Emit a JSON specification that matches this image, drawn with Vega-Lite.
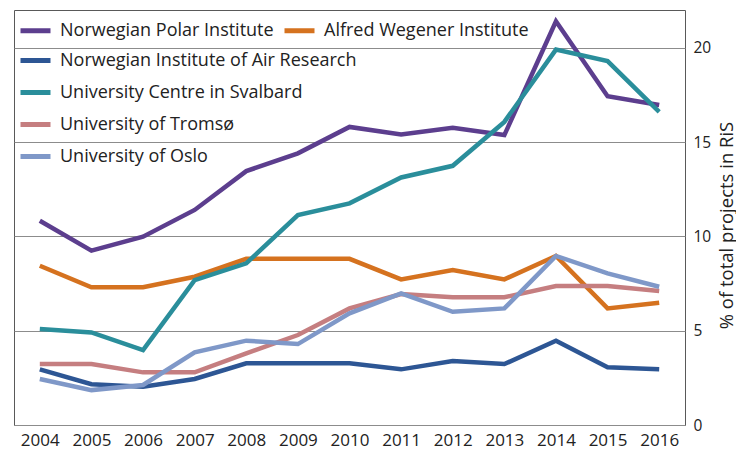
{
  "$schema": "https://vega.github.io/schema/vega-lite/v6.json",
  "width": 671,
  "height": 415,
  "autosize": "none",
  "padding": {"left": 14, "top": 10, "right": 51, "bottom": 25},
  "background": "white",
  "config": {
    "view": {"stroke": "#595959", "strokeWidth": 1},
    "font": "Open Sans"
  },
  "data": {
    "values": [
      {"year": "2004", "inst": "Norwegian Polar Institute", "value": 10.83},
      {"year": "2005", "inst": "Norwegian Polar Institute", "value": 9.24},
      {"year": "2006", "inst": "Norwegian Polar Institute", "value": 9.98},
      {"year": "2007", "inst": "Norwegian Polar Institute", "value": 11.4},
      {"year": "2008", "inst": "Norwegian Polar Institute", "value": 13.46},
      {"year": "2009", "inst": "Norwegian Polar Institute", "value": 14.4},
      {"year": "2010", "inst": "Norwegian Polar Institute", "value": 15.8},
      {"year": "2011", "inst": "Norwegian Polar Institute", "value": 15.4},
      {"year": "2012", "inst": "Norwegian Polar Institute", "value": 15.76},
      {"year": "2013", "inst": "Norwegian Polar Institute", "value": 15.37},
      {"year": "2014", "inst": "Norwegian Polar Institute", "value": 21.4},
      {"year": "2015", "inst": "Norwegian Polar Institute", "value": 17.43},
      {"year": "2016", "inst": "Norwegian Polar Institute", "value": 16.96},
      {"year": "2004", "inst": "Alfred Wegener Institute", "value": 8.44},
      {"year": "2005", "inst": "Alfred Wegener Institute", "value": 7.3},
      {"year": "2006", "inst": "Alfred Wegener Institute", "value": 7.3},
      {"year": "2007", "inst": "Alfred Wegener Institute", "value": 7.86},
      {"year": "2008", "inst": "Alfred Wegener Institute", "value": 8.81},
      {"year": "2009", "inst": "Alfred Wegener Institute", "value": 8.81},
      {"year": "2010", "inst": "Alfred Wegener Institute", "value": 8.81},
      {"year": "2011", "inst": "Alfred Wegener Institute", "value": 7.72},
      {"year": "2012", "inst": "Alfred Wegener Institute", "value": 8.21},
      {"year": "2013", "inst": "Alfred Wegener Institute", "value": 7.72},
      {"year": "2014", "inst": "Alfred Wegener Institute", "value": 8.96},
      {"year": "2015", "inst": "Alfred Wegener Institute", "value": 6.18},
      {"year": "2016", "inst": "Alfred Wegener Institute", "value": 6.48},
      {"year": "2004", "inst": "Norwegian Institute of Air Research", "value": 2.95},
      {"year": "2005", "inst": "Norwegian Institute of Air Research", "value": 2.16},
      {"year": "2006", "inst": "Norwegian Institute of Air Research", "value": 2.03},
      {"year": "2007", "inst": "Norwegian Institute of Air Research", "value": 2.44},
      {"year": "2008", "inst": "Norwegian Institute of Air Research", "value": 3.27},
      {"year": "2009", "inst": "Norwegian Institute of Air Research", "value": 3.27},
      {"year": "2010", "inst": "Norwegian Institute of Air Research", "value": 3.27},
      {"year": "2011", "inst": "Norwegian Institute of Air Research", "value": 2.95},
      {"year": "2012", "inst": "Norwegian Institute of Air Research", "value": 3.39},
      {"year": "2013", "inst": "Norwegian Institute of Air Research", "value": 3.23},
      {"year": "2014", "inst": "Norwegian Institute of Air Research", "value": 4.47},
      {"year": "2015", "inst": "Norwegian Institute of Air Research", "value": 3.06},
      {"year": "2016", "inst": "Norwegian Institute of Air Research", "value": 2.95},
      {"year": "2004", "inst": "University Centre in Svalbard", "value": 5.09},
      {"year": "2005", "inst": "University Centre in Svalbard", "value": 4.91},
      {"year": "2006", "inst": "University Centre in Svalbard", "value": 3.97},
      {"year": "2007", "inst": "University Centre in Svalbard", "value": 7.68},
      {"year": "2008", "inst": "University Centre in Svalbard", "value": 8.57},
      {"year": "2009", "inst": "University Centre in Svalbard", "value": 11.13},
      {"year": "2010", "inst": "University Centre in Svalbard", "value": 11.75},
      {"year": "2011", "inst": "University Centre in Svalbard", "value": 13.12},
      {"year": "2012", "inst": "University Centre in Svalbard", "value": 13.74},
      {"year": "2013", "inst": "University Centre in Svalbard", "value": 16.07},
      {"year": "2014", "inst": "University Centre in Svalbard", "value": 19.9},
      {"year": "2015", "inst": "University Centre in Svalbard", "value": 19.29},
      {"year": "2016", "inst": "University Centre in Svalbard", "value": 16.6},
      {"year": "2004", "inst": "University of Tromsø", "value": 3.23},
      {"year": "2005", "inst": "University of Tromsø", "value": 3.23},
      {"year": "2006", "inst": "University of Tromsø", "value": 2.79},
      {"year": "2007", "inst": "University of Tromsø", "value": 2.79},
      {"year": "2008", "inst": "University of Tromsø", "value": 3.8},
      {"year": "2009", "inst": "University of Tromsø", "value": 4.77},
      {"year": "2010", "inst": "University of Tromsø", "value": 6.18},
      {"year": "2011", "inst": "University of Tromsø", "value": 6.94},
      {"year": "2012", "inst": "University of Tromsø", "value": 6.77},
      {"year": "2013", "inst": "University of Tromsø", "value": 6.77},
      {"year": "2014", "inst": "University of Tromsø", "value": 7.37},
      {"year": "2015", "inst": "University of Tromsø", "value": 7.37},
      {"year": "2016", "inst": "University of Tromsø", "value": 7.1},
      {"year": "2004", "inst": "University of Oslo", "value": 2.44},
      {"year": "2005", "inst": "University of Oslo", "value": 1.85},
      {"year": "2006", "inst": "University of Oslo", "value": 2.12},
      {"year": "2007", "inst": "University of Oslo", "value": 3.85},
      {"year": "2008", "inst": "University of Oslo", "value": 4.47},
      {"year": "2009", "inst": "University of Oslo", "value": 4.29},
      {"year": "2010", "inst": "University of Oslo", "value": 5.92},
      {"year": "2011", "inst": "University of Oslo", "value": 6.98},
      {"year": "2012", "inst": "University of Oslo", "value": 6.0},
      {"year": "2013", "inst": "University of Oslo", "value": 6.18},
      {"year": "2014", "inst": "University of Oslo", "value": 8.96},
      {"year": "2015", "inst": "University of Oslo", "value": 8.04},
      {"year": "2016", "inst": "University of Oslo", "value": 7.33}
    ]
  },
  "encoding": {
    "x": {
      "field": "year", "type": "ordinal",
      "scale": {"type": "point", "padding": 0.5},
      "axis": {"title": null, "labelAngle": 0, "ticks": false, "domain": false, "grid": false, "labelFontSize": 17, "labelColor": "#222", "labelPadding": 7}
    },
    "y": {
      "field": "value", "type": "quantitative",
      "scale": {"domain": [0, 22], "nice": false},
      "axis": {"orient": "right", "values": [0, 5, 10, 15, 20], "title": "% of total projects in RiS", "titleFontSize": 18.5, "titleFontWeight": "normal", "titleColor": "#222", "titleAngle": 270, "titleX": 41, "titleY": 215, "titleAlign": "center", "titleBaseline": "middle", "labelFontSize": 15.5, "labelColor": "#222", "labelPadding": 8, "ticks": false, "domain": false, "grid": true, "gridColor": "#8c8c8c", "gridWidth": 1}
    }
  },
  "layer": [
    {
      "transform": [{"filter": {"field": "inst", "oneOf": ["Norwegian Polar Institute", "Alfred Wegener Institute"]}}],
      "mark": {"type": "line", "strokeWidth": 4.5},
      "encoding": {
        "color": {
          "field": "inst", "type": "nominal",
          "scale": {"domain": ["Norwegian Polar Institute", "Alfred Wegener Institute"], "range": ["#5c3e8e", "#d5721f"]},
          "legend": {"title": null, "orient": "none", "legendX": 4, "legendY": 3, "direction": "horizontal", "symbolType": "stroke", "symbolSize": 900, "symbolStrokeWidth": 5, "labelFontSize": 18, "labelColor": "#222", "labelOffset": 7, "columnPadding": 0, "fillColor": "white", "padding": 0, "labelLimit": 400}
        }
      }
    },
    {
      "transform": [{"filter": {"field": "inst", "oneOf": ["Norwegian Institute of Air Research", "University Centre in Svalbard", "University of Tromsø", "University of Oslo"]}}],
      "mark": {"type": "line", "strokeWidth": 4.5},
      "encoding": {
        "color": {
          "field": "inst", "type": "nominal",
          "scale": {"domain": ["Norwegian Institute of Air Research", "University Centre in Svalbard", "University of Tromsø", "University of Oslo"], "range": ["#2d5694", "#2a8e9b", "#c57e80", "#7f98c8"]},
          "legend": {"title": null, "orient": "none", "legendX": 4, "legendY": 33, "direction": "vertical", "symbolType": "stroke", "symbolSize": 900, "symbolStrokeWidth": 5, "labelFontSize": 18, "labelColor": "#222", "labelOffset": 7, "rowPadding": 4, "padding": 0, "labelLimit": 400}
        }
      }
    }
  ],
  "resolve": {"scale": {"color": "independent"}}
}
